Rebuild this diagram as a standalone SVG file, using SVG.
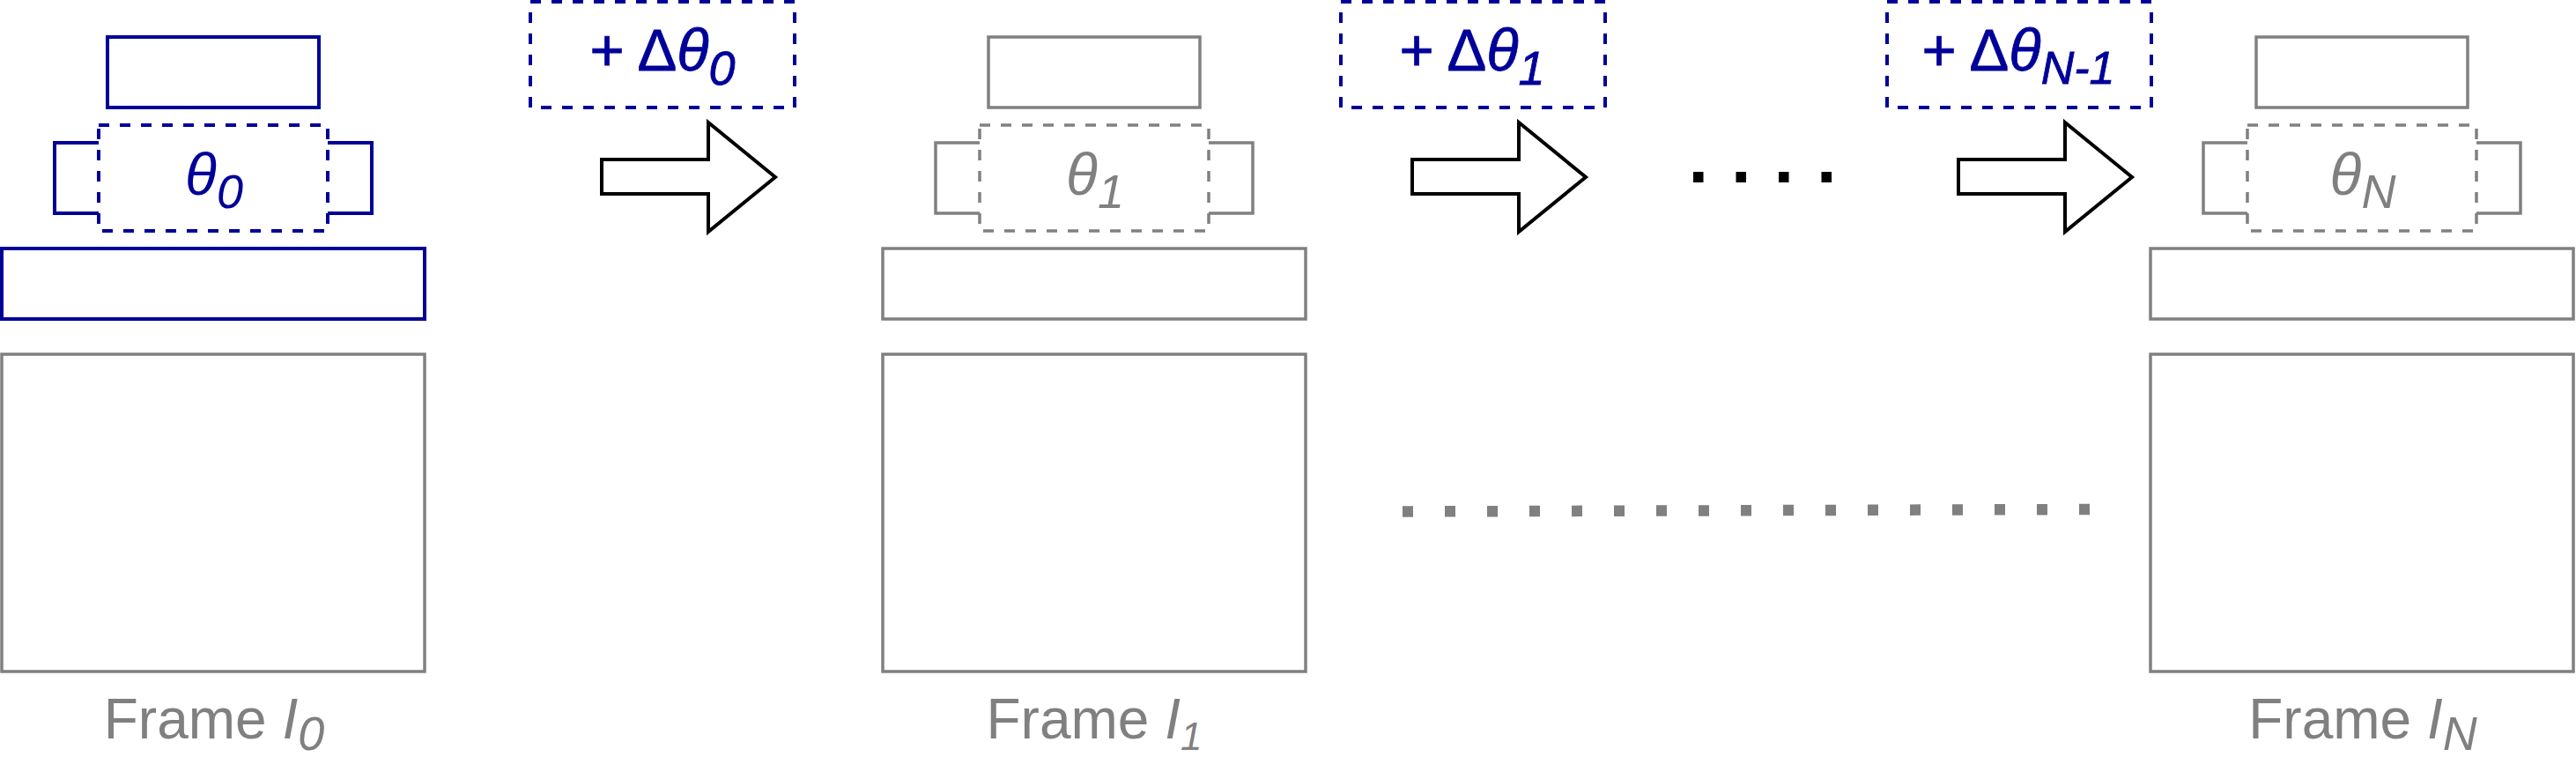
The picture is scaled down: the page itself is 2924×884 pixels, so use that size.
<svg xmlns="http://www.w3.org/2000/svg" width="2924" height="884" viewBox="0 0 2924 884">
<style>
.bg{fill:#ffffff}
.blue{stroke:#000099;fill:none;stroke-width:4}
.gray{stroke:#808080;fill:none;stroke-width:3.5}
.dash{stroke-dasharray:12 12}
.arrow{fill:#ffffff;stroke:#000000;stroke-width:4;stroke-linejoin:miter}
text{font-family:"Liberation Sans",Arial,Helvetica,sans-serif}
.lbl{font-size:64px;fill:#808080}
.it{font-style:italic}
.th{font-size:66px;font-style:italic}
.dt{font-size:67px;fill:#000099;stroke:#000099;stroke-width:0.8}
</style>
<rect class="bg" x="0" y="0" width="2924" height="884"/>

<g id="frame0">
  <rect class="blue" x="122" y="42" width="240" height="80"/>
  <path class="blue" d="M112,162 H62 V242 H112 M372,162 H422 V242 H372"/>
  <rect class="blue dash" x="112" y="142" width="260" height="120"/>
  <text class="th" x="243" y="221" text-anchor="middle" fill="#000099">θ<tspan font-size="54" dy="15">0</tspan></text>
  <rect class="blue" x="2" y="282" width="480" height="80"/>
  <rect class="gray" x="2" y="402" width="480" height="360"/>
  <text class="lbl" x="243" y="838" text-anchor="middle">Frame <tspan class="it">I</tspan><tspan class="it" font-size="54" dy="13">0</tspan></text>
</g>

<g id="frame1" transform="translate(1000,0)">
  <rect class="gray" x="122" y="42" width="240" height="80"/>
  <path class="gray" d="M112,162 H62 V242 H112 M372,162 H422 V242 H372"/>
  <rect class="gray dash" x="112" y="142" width="260" height="120"/>
  <text class="th" x="243" y="221" text-anchor="middle" fill="#808080">θ<tspan font-size="54" dy="15">1</tspan></text>
  <rect class="gray" x="2" y="282" width="480" height="80"/>
  <rect class="gray" x="2" y="402" width="480" height="360"/>
  <text class="lbl" x="242" y="838" text-anchor="middle">Frame <tspan class="it">I</tspan><tspan class="it" font-size="44" dy="13">1</tspan></text>
</g>

<g id="frameN" transform="translate(2439,0)">
  <rect class="gray" x="122" y="42" width="240" height="80"/>
  <path class="gray" d="M112,162 H62 V242 H112 M372,162 H422 V242 H372"/>
  <rect class="gray dash" x="112" y="142" width="260" height="120"/>
  <text class="th" x="243" y="221" text-anchor="middle" fill="#808080">θ<tspan font-size="54" dy="15">N</tspan></text>
  <rect class="gray" x="2" y="282" width="480" height="80"/>
  <rect class="gray" x="2" y="402" width="480" height="360"/>
  <text class="lbl" x="243" y="838" text-anchor="middle">Frame <tspan class="it">I</tspan><tspan class="it" font-size="54" dy="13">N</tspan></text>
</g>

<g id="delta0">
  <rect class="blue dash" x="602" y="2" width="300" height="120"/>
  <text class="dt" x="752" y="80" text-anchor="middle">+ Δ<tspan class="it">θ</tspan><tspan class="it" font-size="54" dy="16">0</tspan></text>
</g>
<g id="delta1">
  <rect class="blue dash" x="1522" y="2" width="300" height="120"/>
  <text class="dt" x="1671" y="80" text-anchor="middle">+ Δ<tspan class="it">θ</tspan><tspan class="it" font-size="54" dy="16">1</tspan></text>
</g>
<g id="deltaN">
  <rect class="blue dash" x="2142" y="2" width="300" height="120"/>
  <text class="dt" x="2291" y="80" text-anchor="middle">+ Δ<tspan class="it">θ</tspan><tspan class="it" font-size="52" dy="15">N-1</tspan></text>
</g>

<g id="connectors">
  <polygon class="arrow" points="683,181 804,181 804,139 880,201 804,263 804,220 683,220"/>
  <polygon class="arrow" points="1603,181 1724,181 1724,139 1800,201 1724,263 1724,220 1603,220"/>
  <polygon class="arrow" points="2223,181 2344,181 2344,139 2420,201 2344,263 2344,220 2223,220"/>
  <line x1="1922" y1="201" x2="2079" y2="201" stroke="#000000" stroke-width="12" stroke-dasharray="11.5 37"/>
  <line x1="1592" y1="580.5" x2="2372" y2="578" stroke="#808080" stroke-width="12.5" stroke-dasharray="12 36"/>
</g>
</svg>
